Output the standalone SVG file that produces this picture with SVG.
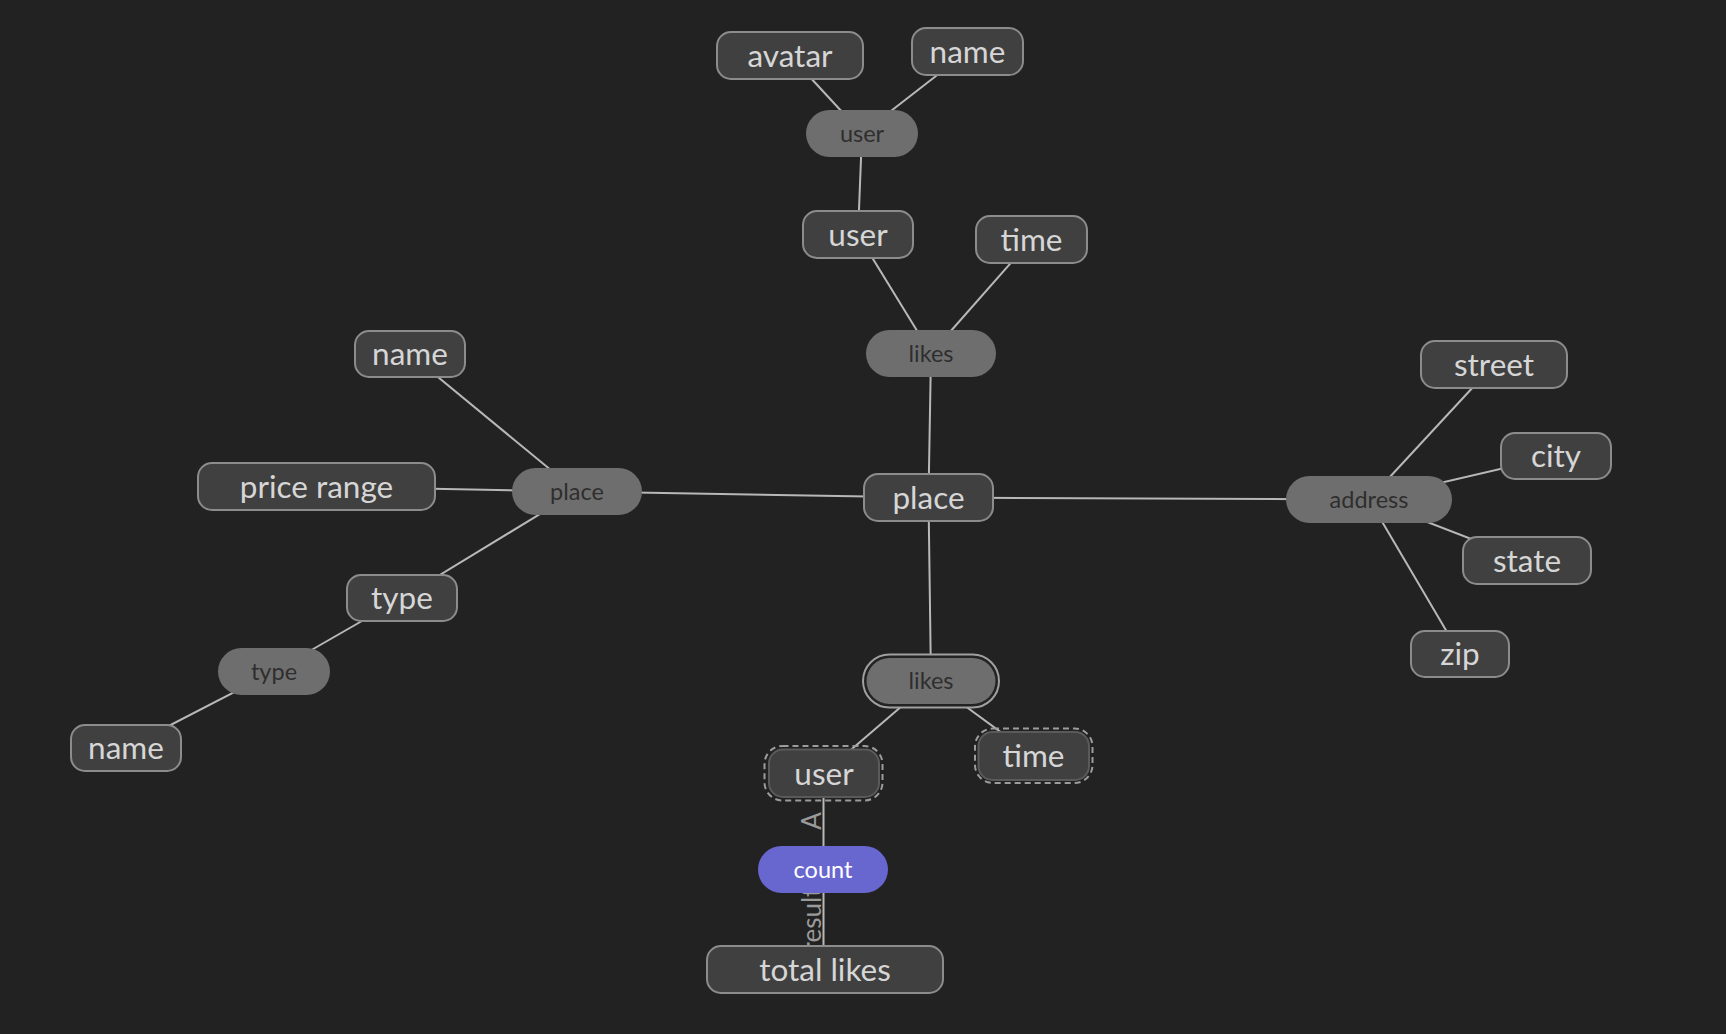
<svg xmlns="http://www.w3.org/2000/svg" width="1726" height="1034" viewBox="0 0 1726 1034">
  <style>
    text { font-family: Lato, "Noto Sans", "Liberation Sans", sans-serif; text-anchor: middle; }
    .edge { stroke: #b8b8b8; stroke-width: 2; fill: none; }
    .elabel { fill: #9a9a9a; font-size: 26px; }
    .attr rect.box { fill: #404040; stroke: #8c8c8c; stroke-width: 2; }
    .attr text { fill: #d6d6d6; font-size: 31.5px; }
    .ent rect.box { fill: #6e6e6e; }
    .ent text { fill: #2e2e2e; font-size: 23.5px; }
    .dash { fill: none; stroke: #9c9c9c; stroke-width: 2; stroke-dasharray: 6 4; }
    .ring { fill: #232323; stroke: #a0a0a0; stroke-width: 2; }
    .fn rect { fill: #6866cf; }
    .fn text { fill: #ffffff; font-size: 23.5px; }
  </style>

  <rect width="1726" height="1034" fill="#222222"/>

  <!-- connectors, drawn centre to centre under the nodes -->
  <g id="edges">
    <line class="edge" x1="790" y1="55.5" x2="862" y2="133.5"/>
    <line class="edge" x1="967.5" y1="51.5" x2="862" y2="133.5"/>
    <line class="edge" x1="862" y1="133.5" x2="858" y2="234.5"/>
    <line class="edge" x1="858" y1="234.5" x2="931" y2="353.5"/>
    <line class="edge" x1="1031.5" y1="239.5" x2="931" y2="353.5"/>
    <line class="edge" x1="931" y1="353.5" x2="928.5" y2="497.5"/>
    <line class="edge" x1="928.5" y1="497.5" x2="577" y2="491.5"/>
    <line class="edge" x1="928.5" y1="497.5" x2="1369" y2="499.5"/>
    <line class="edge" x1="928.5" y1="497.5" x2="931" y2="681"/>
    <line class="edge" x1="931" y1="681" x2="824" y2="773"/>
    <line class="edge" x1="931" y1="681" x2="1033.5" y2="756"/>
    <line class="edge" x1="823.5" y1="773" x2="823.5" y2="869.5"/>
    <line class="edge" x1="823.5" y1="869.5" x2="823.5" y2="969.5"/>
    <line class="edge" x1="410" y1="354" x2="577" y2="491.5"/>
    <line class="edge" x1="316.5" y1="486.5" x2="577" y2="491.5"/>
    <line class="edge" x1="577" y1="491.5" x2="402" y2="598"/>
    <line class="edge" x1="402" y1="598" x2="274" y2="671.5"/>
    <line class="edge" x1="274" y1="671.5" x2="126" y2="748"/>
    <line class="edge" x1="1369" y1="499.5" x2="1494" y2="364.5"/>
    <line class="edge" x1="1369" y1="499.5" x2="1556" y2="456"/>
    <line class="edge" x1="1369" y1="499.5" x2="1527" y2="560.5"/>
    <line class="edge" x1="1369" y1="499.5" x2="1460" y2="654"/>
    <text class="elabel" transform="translate(821 821) rotate(-90)" y="0">A</text>
    <text class="elabel" transform="translate(821 919.5) rotate(-90)" y="0">result</text>
  </g>

  <!-- user branch -->
  <g id="n-avatar" class="attr"><rect class="box" x="717" y="32" width="146" height="47" rx="14"/><text x="790" y="66.5">avatar</text></g>
  <g id="n-user-name" class="attr"><rect class="box" x="912" y="28" width="111" height="47" rx="14"/><text x="967.5" y="62.5">name</text></g>
  <g id="n-user-ent" class="ent"><rect class="box" x="806" y="110" width="112" height="47" rx="23.5"/><text x="862" y="141.5">user</text></g>
  <g id="n-user" class="attr"><rect class="box" x="803" y="211" width="110" height="47" rx="14"/><text x="858" y="245.5">user</text></g>
  <g id="n-time" class="attr"><rect class="box" x="976" y="216" width="111" height="47" rx="14"/><text x="1031.5" y="250.5">time</text></g>
  <g id="n-likes-top" class="ent"><rect class="box" x="866" y="330" width="130" height="47" rx="23.5"/><text x="931" y="361.5">likes</text></g>

  <!-- root -->
  <g id="n-place-root" class="attr"><rect class="box" x="864" y="474" width="129" height="47" rx="14"/><text x="928.5" y="508.5">place</text></g>

  <!-- place branch (left) -->
  <g id="n-place-ent" class="ent"><rect class="box" x="512" y="468" width="130" height="47" rx="23.5"/><text x="577" y="499.5">place</text></g>
  <g id="n-place-name" class="attr"><rect class="box" x="355" y="331" width="110" height="46" rx="14"/><text x="410" y="365">name</text></g>
  <g id="n-price-range" class="attr"><rect class="box" x="198" y="463" width="237" height="47" rx="14"/><text x="316.5" y="497.5">price range</text></g>
  <g id="n-type" class="attr"><rect class="box" x="347" y="575" width="110" height="46" rx="14"/><text x="402" y="609">type</text></g>
  <g id="n-type-ent" class="ent"><rect class="box" x="218" y="648" width="112" height="47" rx="23.5"/><text x="274" y="679.5">type</text></g>
  <g id="n-type-name" class="attr"><rect class="box" x="71" y="725" width="110" height="46" rx="14"/><text x="126" y="759">name</text></g>

  <!-- address branch (right) -->
  <g id="n-address" class="ent"><rect class="box" x="1286" y="476" width="166" height="47" rx="23.5"/><text x="1369" y="507.5">address</text></g>
  <g id="n-street" class="attr"><rect class="box" x="1421" y="341" width="146" height="47" rx="14"/><text x="1494" y="375.5">street</text></g>
  <g id="n-city" class="attr"><rect class="box" x="1501" y="433" width="110" height="46" rx="14"/><text x="1556" y="467">city</text></g>
  <g id="n-state" class="attr"><rect class="box" x="1463" y="537" width="128" height="47" rx="14"/><text x="1527" y="571.5">state</text></g>
  <g id="n-zip" class="attr"><rect class="box" x="1411" y="631" width="98" height="46" rx="14"/><text x="1460" y="665">zip</text></g>

  <!-- likes aggregation branch (bottom) -->
  <g id="n-likes-bottom" class="ent">
    <rect class="ring" x="863" y="654.5" width="136" height="53" rx="26.5"/>
    <rect class="box" x="866.5" y="658" width="129" height="46" rx="23"/>
    <text x="931" y="689">likes</text>
  </g>
  <g id="n-likes-user" class="attr">
    <rect class="dash" x="764.5" y="746" width="118" height="54.5" rx="18"/>
    <rect class="box" x="769" y="749.5" width="110" height="47.5" rx="14" style="stroke:#5a5a5a"/>
    <text x="824" y="784.5">user</text>
  </g>
  <g id="n-likes-time" class="attr">
    <rect class="dash" x="975" y="728.5" width="117.5" height="54.5" rx="18"/>
    <rect class="box" x="978.5" y="732" width="110.5" height="48" rx="14" style="stroke:#5a5a5a"/>
    <text x="1033.5" y="767">time</text>
  </g>
  <g id="n-count" class="fn"><rect x="758" y="846" width="130" height="47" rx="23.5"/><text x="823" y="878">count</text></g>
  <g id="n-total-likes" class="attr"><rect class="box" x="707" y="946" width="236" height="47" rx="14"/><text x="825" y="980.5">total likes</text></g>
</svg>
